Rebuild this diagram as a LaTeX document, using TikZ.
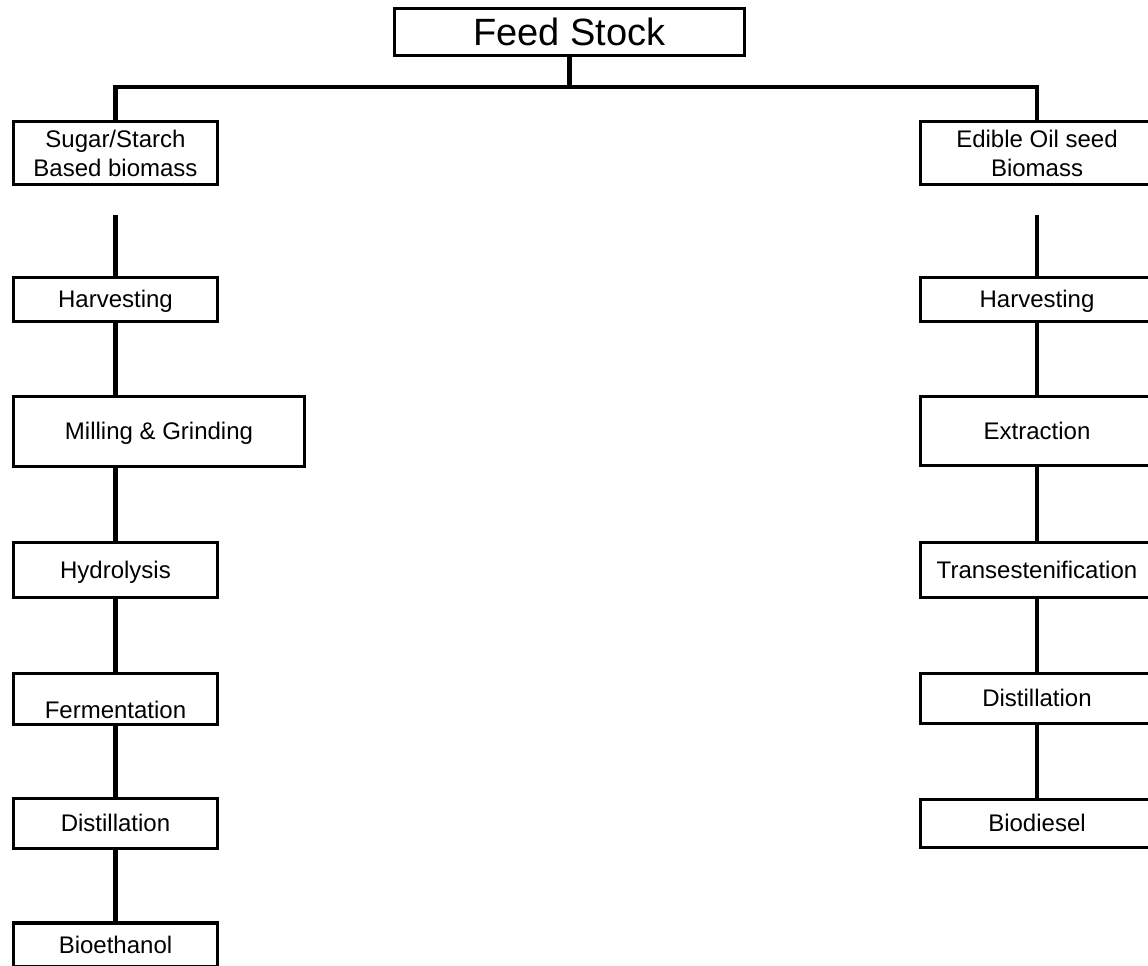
\documentclass[tikz,border=0pt]{standalone}
\usepackage{fontspec}
\setmainfont{Liberation Sans}
\begin{document}
\begin{tikzpicture}[x=1pt,y=-1pt,
  box/.style={draw=black, line width=3.3pt, rectangle, inner sep=0pt,
    font=\fontsize{24}{29}\selectfont, text height=17.5pt, text depth=0.6pt},
  twoline/.style={draw=black, line width=3.3pt, rectangle, inner sep=0pt,
    align=center, font=\fontsize{24}{29}\selectfont},
  conn/.style={draw=black, line width=4.3pt}]
\useasboundingbox (0,0) rectangle (1148,966);
\clip (0,0) rectangle (1148,966);

% top of the tree
\node[box, minimum width=350pt, minimum height=47pt,
  font=\fontsize{38}{44}\selectfont, text height=27.5pt, text depth=1pt]
  (feed) at (569.5,32) {Feed Stock};
\coordinate (busL) at (115.5,87);
\coordinate (busR) at (1037,87);

% sugar / starch route
\node[twoline, minimum width=204pt, minimum height=63pt] (sugar) at (115.5,153)
  {Sugar/Starch\\Based biomass};
\coordinate (gapL) at (115.5,215);
\node[box, minimum width=204pt, minimum height=44pt] (harvL) at (115.5,299.5) {Harvesting};
\node[box, minimum width=291pt, minimum height=70pt] (millL) at (159,431.5) {Milling \& Grinding};
\node[box, minimum width=204pt, minimum height=55pt] (hydL) at (115.5,570) {Hydrolysis};
\node[box, minimum width=204pt, minimum height=51pt, text height=39.5pt] (ferm) at (115.5,699) {Fermentation};
\node[box, minimum width=204pt, minimum height=50pt] (distL) at (115.5,823.5) {Distillation};
\node[box, minimum width=204pt, minimum height=44pt] (bioeth) at (115.5,945) {Bioethanol};

% edible oil seed route
\node[twoline, minimum width=233pt, minimum height=63pt] (oil) at (1037,153)
  {Edible Oil seed\\Biomass};
\coordinate (gapR) at (1037,215);
\node[box, minimum width=233pt, minimum height=44pt] (harvR) at (1037,299.5) {Harvesting};
\node[box, minimum width=233pt, minimum height=69pt] (extr) at (1037,431) {Extraction};
\node[box, minimum width=233pt, minimum height=55pt] (trans) at (1037,570) {Transestenification};
\node[box, minimum width=233pt, minimum height=50pt] (distR) at (1037,698.5) {Distillation};
\node[box, minimum width=233pt, minimum height=48pt] (biod) at (1037,823.5) {Biodiesel};

% connectors
\draw[conn] (feed.south) -- (feed.south |- busL);
\draw[conn] (sugar.north) -- (busL) -- (busR) -- (oil.north);

\draw[conn] (gapL) -- (harvL.north);
\draw[conn] (harvL.south) -- (harvL.south |- millL.north);
\draw[conn] (hydL.north) -- (hydL.north |- millL.south);
\draw[conn] (hydL.south) -- (ferm.north);
\draw[conn] (ferm.south) -- (distL.north);
\draw[conn] (distL.south) -- (bioeth.north);

\draw[conn] (gapR) -- (harvR.north);
\draw[conn] (harvR.south) -- (extr.north);
\draw[conn] (extr.south) -- (trans.north);
\draw[conn] (trans.south) -- (distR.north);
\draw[conn] (distR.south) -- (biod.north);
\end{tikzpicture}
\end{document}
